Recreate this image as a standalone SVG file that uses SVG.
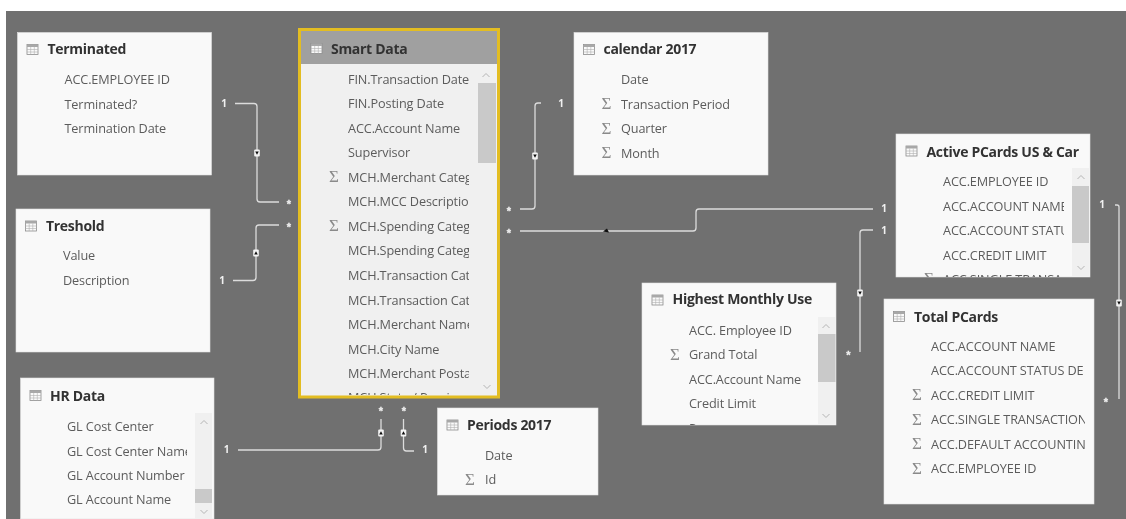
<svg xmlns="http://www.w3.org/2000/svg" width="1126" height="519" viewBox="0 0 1126 519">
<style>
text{font-family:"Open Sans","Noto Sans","Liberation Sans",sans-serif}
.card{fill:#f9f9f9;stroke:#e2e2e2;stroke-width:.6}
.t{font-size:14px;font-weight:700;fill:#333;letter-spacing:-.3px}
.r{font-size:12.7px;fill:#5c5c5c;letter-spacing:-.12px}
.s{font-family:"Liberation Serif","DejaVu Serif",serif;font-size:17px;fill:#8a8a8a}
.track{fill:#f0f0f0}.thumb{fill:#c9c9c9}
.chev{fill:none;stroke:#b5b5b5;stroke-width:1}
.ln{fill:none;stroke:#dcdcdc;stroke-width:1.3}
.one{font-size:10px;font-weight:700;fill:#f0f0f0;text-anchor:middle}
.star{font-family:"Liberation Sans",sans-serif;font-size:11px;font-weight:700;fill:#f0f0f0;stroke:#f0f0f0;stroke-width:.3;text-anchor:middle}
</style>
<defs>
<filter id="soft" x="0" y="0" width="100%" height="100%"><feGaussianBlur stdDeviation="0.35"/></filter>
<g id="ico"><rect x="0" y="0" width="11" height="10" fill="#fafafa" stroke="#8c8c8c" stroke-width=".8"/><rect x="0" y="0" width="11" height="2.5" fill="#a8a8a8"/><path d="M3.7 2.5V10M7.3 2.5V10M0 5h11M0 7.5h11" stroke="#b0b0b0" stroke-width=".6" fill="none"/></g>
<path id="up" class="chev" d="M-3.500 2L0-1.500L3.500 2"/>
<path id="dn" class="chev" d="M-3.500-2L0 1.500L3.500-2"/>
<g id="mu"><rect x="-2.800" y="-3.500" width="5.600" height="7" rx="1" fill="#f4f4f4"/><path d="M-1.800 1.600H1.800L0-1.800Z" fill="#111"/></g>
<g id="md"><rect x="-2.800" y="-3.500" width="5.600" height="7" rx="1" fill="#f4f4f4"/><path d="M-1.800-1.600H1.800L0 1.800Z" fill="#111"/></g>
<clipPath id="cS"><rect x="301" y="31" width="168" height="364"/></clipPath>
<clipPath id="cA"><rect x="896" y="134" width="168" height="143"/></clipPath>
<clipPath id="cH"><rect x="642" y="283" width="170" height="142"/></clipPath>
<clipPath id="cP"><rect x="884" y="299" width="201" height="205"/></clipPath>
<clipPath id="cR"><rect x="20" y="378" width="167" height="141"/></clipPath>
</defs>
<rect width="1126" height="519" fill="#fff"/>
<g filter="url(#soft)">
<rect x="6" y="11" width="1120" height="508" fill="#707070"/>

<g id="connectors">
<path class="ln" d="M235 103.500H254Q257 103.500 257 106.500V199Q257 202 260 202H279"/>
<path class="ln" d="M233 280.500H253Q256 280.500 256 277.500V228Q256 225 259 225H279"/>
<path class="ln" d="M520 209H532Q535 209 535 206V106Q535 103 538 103H541"/>
<path class="ln" d="M520 231H693Q696 231 696 228V212Q696 209 699 209H873"/>
<path class="ln" d="M873 230H863Q860 230 860 233V352"/>
<path class="ln" d="M1115 205H1117Q1119 205 1119 207V399"/>
<path class="ln" d="M238 450H378Q381 450 381 447V419"/>
<path class="ln" d="M403.500 419V448Q403.500 451 406.500 451H414"/>
<use href="#md" x="257" y="153"/><use href="#mu" x="256" y="253"/><use href="#md" x="535" y="156"/>
<path d="M603 231.500L607 228.500L609 232.500Z" fill="#111"/>
<use href="#md" x="860" y="293"/><use href="#md" x="1119" y="303"/><use href="#mu" x="381" y="433"/><use href="#mu" x="403.500" y="433"/>
<text class="one" x="224" y="107">1</text><text class="star" x="289" y="208.400">*</text>
<text class="star" x="289" y="231.400">*</text><text class="one" x="222" y="284">1</text>
<text class="star" x="509" y="215">*</text><text class="one" x="561" y="107">1</text>
<text class="star" x="509" y="237.400">*</text><text class="one" x="884" y="212">1</text>
<text class="one" x="884" y="234">1</text><text class="star" x="848.500" y="359.400">*</text>
<text class="one" x="1102" y="208">1</text><text class="star" x="1106" y="406.400">*</text>
<text class="one" x="226.500" y="453">1</text><text class="star" x="381" y="415.400">*</text>
<text class="star" x="404" y="415.400">*</text><text class="one" x="425" y="453">1</text>
</g>

<g id="terminated">
<rect class="card" x="17.500" y="32.500" width="194" height="142.500"/>
<use href="#ico" x="27" y="44.500"/>
<text class="t" x="47.500" y="54">Terminated</text>
<text class="r" x="64.500" y="84">ACC.EMPLOYEE ID</text>
<text class="r" x="64.500" y="108.500">Terminated?</text>
<text class="r" x="64.500" y="133">Termination Date</text>
</g>

<g id="treshold">
<rect class="card" x="16" y="209" width="194" height="143"/>
<use href="#ico" x="25.500" y="221"/>
<text class="t" x="46" y="231">Treshold</text>
<text class="r" x="63" y="260">Value</text>
<text class="r" x="63" y="285">Description</text>
</g>

<g id="hr-data">
<rect class="card" x="20.500" y="378" width="193.500" height="141"/>
<use href="#ico" x="30" y="390.500"/>
<text class="t" x="50" y="401">HR Data</text>
<g clip-path="url(#cR)">
<text class="r" x="67" y="431">GL Cost Center</text>
<text class="r" x="67" y="455.500">GL Cost Center Name</text>
<text class="r" x="67" y="479.500">GL Account Number</text>
<text class="r" x="67" y="504">GL Account Name</text>
</g>
<rect class="track" x="195" y="413" width="17" height="106"/>
<rect class="thumb" x="195" y="489" width="17" height="14"/>
<use href="#up" x="204" y="422"/><use href="#dn" x="204" y="512"/>
</g>

<g id="smart-data">
<rect x="299.500" y="29.500" width="199" height="367.500" fill="#f0f0f0" stroke="#e3bd22" stroke-width="3"/>
<rect x="301" y="31" width="196" height="33" fill="#a0a0a0"/>
<use href="#ico" x="311" y="43.500"/>
<text class="t" x="331" y="53.500">Smart Data</text>
<g clip-path="url(#cS)">
<text class="r" x="348" y="83.500">FIN.Transaction Date</text>
<text class="r" x="348" y="108">FIN.Posting Date</text>
<text class="r" x="348" y="132.500">ACC.Account Name</text>
<text class="r" x="348" y="157">Supervisor</text>
<text class="s" x="329" y="182">Σ</text>
<text class="r" x="348" y="181.500">MCH.Merchant Categ</text>
<text class="r" x="348" y="206">MCH.MCC Description</text>
<text class="s" x="329" y="231">Σ</text>
<text class="r" x="348" y="230.500">MCH.Spending Categ</text>
<text class="r" x="348" y="255">MCH.Spending Categ</text>
<text class="r" x="348" y="280">MCH.Transaction Cat</text>
<text class="r" x="348" y="304.500">MCH.Transaction Cat</text>
<text class="r" x="348" y="329">MCH.Merchant Name</text>
<text class="r" x="348" y="353.500">MCH.City Name</text>
<text class="r" x="348" y="378">MCH.Merchant Postal</text>
<text class="r" x="348" y="401.500">MCH.State / Province</text>
</g>
<rect class="thumb" x="478" y="83" width="18" height="80"/>
<use href="#up" x="486" y="75"/><use href="#dn" x="487" y="387"/>
</g>

<g id="calendar-2017">
<rect class="card" x="574" y="32.500" width="194" height="142.500"/>
<use href="#ico" x="583.500" y="44.500"/>
<text class="t" x="603.500" y="54">calendar 2017</text>
<text class="r" x="621" y="84">Date</text>
<text class="s" x="601.500" y="109">Σ</text><text class="r" x="621" y="108.500">Transaction Period</text>
<text class="s" x="601.500" y="133.500">Σ</text><text class="r" x="621" y="133">Quarter</text>
<text class="s" x="601.500" y="158">Σ</text><text class="r" x="621" y="157.500">Month</text>
</g>

<g id="active-pcards">
<rect class="card" x="896" y="134" width="194" height="143"/>
<use href="#ico" x="906" y="146"/>
<text class="t" x="926.500" y="156.500">Active PCards US &amp; Car</text>
<g clip-path="url(#cA)">
<text class="r" x="943" y="186">ACC.EMPLOYEE ID</text>
<text class="r" x="943" y="210.500">ACC.ACCOUNT NAME</text>
<text class="r" x="943" y="235">ACC.ACCOUNT STATUS</text>
<text class="r" x="943" y="259.500">ACC.CREDIT LIMIT</text>
<text class="s" x="924" y="284">Σ</text><text class="r" x="943" y="284">ACC.SINGLE TRANSA</text>
</g>
<rect class="track" x="1072" y="168" width="17" height="108"/>
<rect class="thumb" x="1072" y="186" width="17" height="57"/>
<use href="#up" x="1081" y="177"/><use href="#dn" x="1081" y="268"/>
</g>

<g id="highest-monthly-use">
<rect class="card" x="642" y="283" width="194" height="142"/>
<use href="#ico" x="652" y="295"/>
<text class="t" x="672.500" y="304">Highest Monthly Use</text>
<g clip-path="url(#cH)">
<text class="r" x="689" y="334.500">ACC. Employee ID</text>
<text class="s" x="670" y="360">Σ</text><text class="r" x="689" y="359">Grand Total</text>
<text class="r" x="689" y="383.500">ACC.Account Name</text>
<text class="r" x="689" y="408">Credit Limit</text>
<text class="r" x="689" y="432.500">P</text>
</g>
<rect class="track" x="818" y="317" width="17.500" height="107"/>
<rect class="thumb" x="818" y="334" width="17.500" height="48"/>
<use href="#up" x="826" y="326"/><use href="#dn" x="826" y="416"/>
</g>

<g id="total-pcards">
<rect class="card" x="884" y="299" width="210" height="205"/>
<use href="#ico" x="893.500" y="311.500"/>
<text class="t" x="914" y="321.500">Total PCards</text>
<g clip-path="url(#cP)">
<text class="r" x="931" y="350.500">ACC.ACCOUNT NAME</text>
<text class="r" x="931" y="375">ACC.ACCOUNT STATUS DE</text>
<text class="s" x="912" y="400">Σ</text><text class="r" x="931" y="399.500">ACC.CREDIT LIMIT</text>
<text class="s" x="912" y="424.500">Σ</text><text class="r" x="931" y="424">ACC.SINGLE TRANSACTION</text>
<text class="s" x="912" y="449">Σ</text><text class="r" x="931" y="448.500">ACC.DEFAULT ACCOUNTING</text>
<text class="s" x="912" y="473.500">Σ</text><text class="r" x="931" y="473">ACC.EMPLOYEE ID</text>
</g>
</g>

<g id="periods-2017">
<rect class="card" x="437.500" y="408" width="160.500" height="87"/>
<use href="#ico" x="447" y="420"/>
<text class="t" x="467" y="430">Periods 2017</text>
<text class="r" x="485" y="460">Date</text>
<text class="s" x="465" y="485">Σ</text><text class="r" x="485" y="484">Id</text>
</g>
</g>
</svg>
